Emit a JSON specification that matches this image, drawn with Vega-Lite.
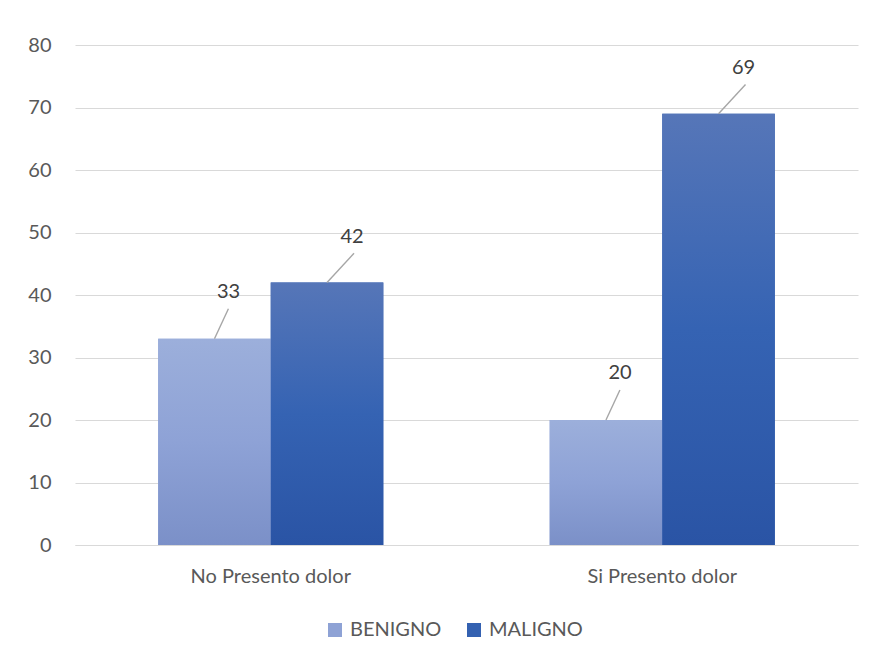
{
  "$schema": "https://vega.github.io/schema/vega-lite/v6.json",
  "autosize": {"type": "none"},
  "padding": {"left": 75, "top": 45, "right": 14, "bottom": 111},
  "width": 783,
  "height": 500,
  "background": "white",
  "config": {
    "font": "Lato",
    "view": {"stroke": null},
    "axis": {"labelFont": "Lato", "labelColor": "#595959", "title": null}
  },
  "data": {
    "values": [
      {"cat": "No Presento dolor", "series": "BENIGNO", "value": 33},
      {"cat": "No Presento dolor", "series": "MALIGNO", "value": 42},
      {"cat": "Si Presento dolor", "series": "BENIGNO", "value": 20},
      {"cat": "Si Presento dolor", "series": "MALIGNO", "value": 69}
    ]
  },
  "encoding": {
    "x": {
      "field": "cat", "type": "nominal",
      "scale": {"paddingInner": 0.425, "paddingOuter": 0.2125},
      "axis": {"labelAngle": 0, "labelFontSize": 20, "labelPadding": 21, "ticks": false, "domainColor": "#d9d9d9", "domainWidth": 1.2}
    },
    "xOffset": {"field": "series", "type": "nominal", "scale": {"paddingInner": 0, "paddingOuter": 0}},
    "y": {
      "field": "value", "type": "quantitative",
      "scale": {"domain": [0, 80], "nice": false},
      "axis": {"values": [0, 10, 20, 30, 40, 50, 60, 70, 80], "labelFontSize": 20, "labelPadding": 24, "ticks": false, "domain": false, "gridColor": "#d9d9d9", "gridWidth": 1.2}
    }
  },
  "layer": [
    {
      "mark": {"type": "bar"},
      "encoding": {
        "color": {
          "field": "series", "type": "nominal",
          "scale": {"domain": ["BENIGNO", "MALIGNO"], "range": ["#8ea2d5", "#3461b1"]},
          "legend": {
            "title": null, "orient": "none", "direction": "horizontal",
            "legendX": 250, "legendY": 575,
            "symbolType": "square", "symbolSize": 196, "symbolStrokeWidth": 0,
            "labelFont": "Lato", "labelFontSize": 20, "labelColor": "#595959",
            "labelOffset": 5, "columnPadding": 22
          }
        }
      }
    },
    {
      "mark": {"type": "bar"},
      "encoding": {
        "fill": {
          "condition": {
            "test": "datum.series === 'BENIGNO'",
            "value": {"gradient": "linear", "x1": 0, "y1": 0, "x2": 0, "y2": 1,
              "stops": [{"offset": 0, "color": "#9cafdb"}, {"offset": 0.5, "color": "#8ea2d6"}, {"offset": 1, "color": "#7b90c8"}]}
          },
          "value": {"gradient": "linear", "x1": 0, "y1": 0, "x2": 0, "y2": 1,
            "stops": [{"offset": 0, "color": "#5676b8"}, {"offset": 0.5, "color": "#3563b3"}, {"offset": 1, "color": "#2a54a5"}]}
        }
      }
    },
    {
      "transform": [{"filter": "datum.series === 'BENIGNO'"}],
      "mark": {"type": "point", "shape": "M0,0L0.93,-2", "filled": false, "size": 900, "stroke": "#a6a6a6", "strokeWidth": 1.4, "opacity": 1}
    },
    {
      "transform": [{"filter": "datum.series === 'MALIGNO'"}],
      "mark": {"type": "point", "shape": "M0,0L1.8,-1.95", "filled": false, "size": 900, "stroke": "#a6a6a6", "strokeWidth": 1.4, "opacity": 1}
    },
    {
      "transform": [{"filter": "datum.series === 'BENIGNO'"}],
      "mark": {"type": "text", "dx": 14, "dy": -47, "baseline": "middle", "align": "center", "font": "Lato", "fontSize": 20, "color": "#404040"},
      "encoding": {"text": {"field": "value", "type": "quantitative"}}
    },
    {
      "transform": [{"filter": "datum.series === 'MALIGNO'"}],
      "mark": {"type": "text", "dx": 25, "dy": -46, "baseline": "middle", "align": "center", "font": "Lato", "fontSize": 20, "color": "#404040"},
      "encoding": {"text": {"field": "value", "type": "quantitative"}}
    }
  ]
}
